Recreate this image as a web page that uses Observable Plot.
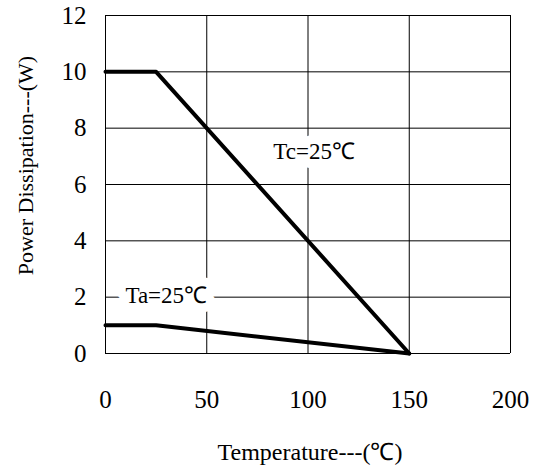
<!DOCTYPE html>
<html>
<head>
<meta charset="utf-8">
<script src="https://cdn.jsdelivr.net/npm/d3@7"></script>
<script src="https://cdn.jsdelivr.net/npm/@observablehq/plot@0.6"></script>
<style>
  body { margin: 0; background: #fff; }
</style>
</head>
<body>
<div id="chart"></div>
<script>
const temps = [0, 25, 150];
const tcPower = [10, 10, 0];
const taPower = [1, 1, 0];
const xTicks = [0, 50, 100, 150, 200];
const yTicks = [0, 2, 4, 6, 8, 10, 12];
const labels = [
  {text: "Tc=25℃", x: 103, y: 7.15},
  {text: "Ta=25℃", x: 30, y: 2.05}
];

const tc = temps.map((t, i) => ({t, p: tcPower[i]}));
const ta = temps.map((t, i) => ({t, p: taPower[i]}));
const FF = "Liberation Serif";

const chart = Plot.plot({
  width: 543,
  height: 469,
  marginLeft: 105,
  marginRight: 33,
  marginTop: 15,
  marginBottom: 116,
  style: {fontFamily: FF, fontSize: "24px", color: "#000", background: "#fff"},
  x: {domain: [0, 200], ticks: xTicks},
  y: {domain: [0, 12], ticks: yTicks},
  marks: [
    Plot.ruleX(xTicks, {stroke: "#000", strokeWidth: 1}),
    Plot.ruleY(yTicks, {stroke: "#000", strokeWidth: 1}),
    Plot.text(labels, {x: "x", y: "y", text: "text", fill: "#000", stroke: "#fff", strokeWidth: 18, fontSize: 23, fontFamily: FF}),
    Plot.line(tc, {x: "t", y: "p", stroke: "#000", strokeWidth: 4}),
    Plot.line(ta, {x: "t", y: "p", stroke: "#000", strokeWidth: 4}),
    Plot.axisX({ticks: xTicks, tickSize: 0, tickPadding: 37, fontSize: 25, fontFamily: FF, label: null}),
    Plot.axisY({ticks: yTicks, tickSize: 0, tickPadding: 19, fontSize: 25, fontFamily: FF, label: null}),
    Plot.text(["Temperature---(℃)"], {frameAnchor: "bottom", dx: 2, dy: 106, fontSize: 24, fontFamily: FF, fill: "#000"}),
    Plot.text(["Power Dissipation---(W)"], {frameAnchor: "left", textAnchor: "middle", dx: -80, dy: -19, rotate: -90, fontSize: 22, fontFamily: FF, fill: "#000"})
  ]
});
document.getElementById("chart").appendChild(chart);
</script>
</body>
</html>
